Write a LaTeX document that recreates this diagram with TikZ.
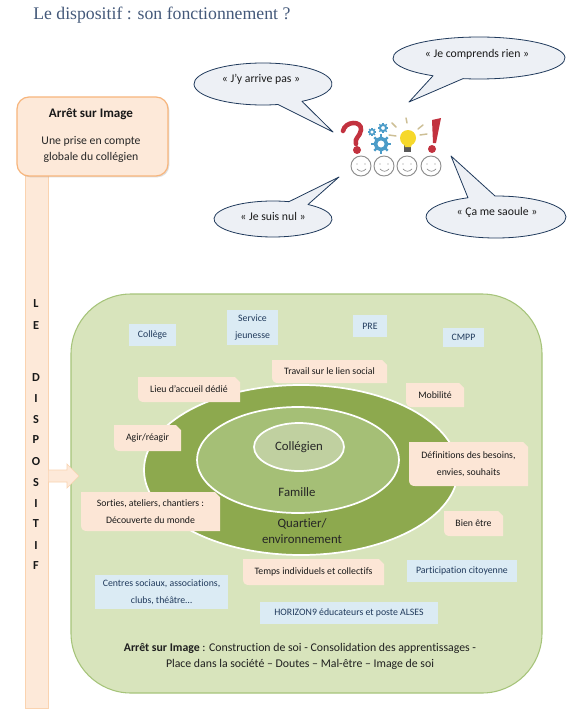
\documentclass[tikz,border=0pt]{standalone}
\usepackage{fontspec}
\setmainfont{Carlito}[Ligatures=NoCommon]
\newfontfamily\titlefont{Liberation Serif}
\usetikzlibrary{shadows}
\definecolor{titleblue}{HTML}{44597A}
\definecolor{peach}{HTML}{FDE9D9}
\definecolor{peachedge}{HTML}{F7B57C}
\definecolor{tagpeach}{HTML}{FCE6D6}
\definecolor{tagblue}{HTML}{DBEBF4}
\definecolor{panelgreen}{HTML}{D8E4BC}
\definecolor{paneledge}{HTML}{A6C47A}
\definecolor{ringa}{HTML}{8DA94E}
\definecolor{ringb}{HTML}{A5BF76}
\definecolor{ringc}{HTML}{C0D0A0}
\definecolor{bubblefill}{HTML}{EDF0F5}
\definecolor{bubbleedge}{HTML}{203A5C}
\definecolor{qred}{HTML}{C2323F}
\definecolor{gearblue}{HTML}{4C9CC8}
\definecolor{bulbyellow}{HTML}{F6D82B}
\definecolor{raytan}{HTML}{CDBF95}
\definecolor{facegrey}{HTML}{8E8E8E}
\tikzset{
  x=0.75pt,y=-0.75pt,
  label8/.style={font=\fontsize{7.35}{12.5}\selectfont,align=center,inner sep=0pt,text=black!90},
  bluelabel/.style={label8,text=bubbleedge},
  big/.style={font=\fontsize{9.6}{12.5}\selectfont,align=center,inner sep=0pt,text=black!85},
  bubbletext/.style={font=\fontsize{8.8}{10}\selectfont,inner sep=0pt,text=black!90},
  bubble/.style={fill=bubblefill,draw=bubbleedge,line width=0.6pt,line join=round},
  tagp/.style={fill=tagpeach},
  tagb/.style={fill=tagblue},
  ring/.style={draw=white,line width=1.3pt},
  ray/.style={draw=raytan,line width=1.1pt,line cap=round},
  face/.style={draw=facegrey,line width=0.7pt},
  mouth/.style={draw=facegrey,line width=0.5pt,line cap=round},
  barletter/.style={font=\fontsize{9.2}{10}\selectfont\bfseries,inner sep=0pt,text=black!90},
  barshape/.style={fill=peach,draw=peachedge!60,line width=0.5pt,line join=miter},
}
% tag with snipped top-right corner and rounded bottom-left corner; text at its centre
\newcommand{\tagbox}[6]{%
  \path[tagp] (#2,#3) -- (#4-5,#3) -- (#4,#3+5) -- (#4,#5)
    -- (#2+6,#5) .. controls (#2+2,#5) and (#2,#5-2) .. (#2,#5-6) -- cycle;
  \node[label8] (#1) at ({(#2+#4)/2},{(#3+#5)/2}) {#6};
}
\newcommand{\bluebox}[6]{%
  \path[tagb] (#2,#3) rectangle (#4,#5);
  \node[bluelabel] (#1) at ({(#2+#4)/2},{(#3+#5)/2}) {#6};
}
\newcommand{\gearicon}[3]{%
  \draw[gearblue,line width=#3*0.3pt] (#1,#2) circle[radius=#3*0.62];
  \foreach \a in {0,45,...,315}
    \draw[gearblue,line width=#3*0.2pt] (#1,#2) ++(\a:#3*0.7) -- ++(\a:#3*0.36);
}
\newcommand{\smiley}[3]{%
  \node[face,circle,minimum size=15pt,inner sep=0pt] (#1) at (#2,#3) {};
  \fill[facegrey] (#2-4,#3-2) circle[radius=0.6] (#2+4,#3-2) circle[radius=0.6];
  \draw[mouth] (#2-4,#3+3) .. controls (#2-1,#3+6) and (#2+2,#3+6) .. (#2+5,#3+3);
}
\begin{document}
\begin{tikzpicture}
\useasboundingbox (0,0) rectangle (583,724);
\fill[white] (0,0) rectangle (583,724);
% title
\node[anchor=west,inner sep=0pt,text=titleblue,font=\titlefont\fontsize{13.3}{15}\selectfont] (title) at (33,15) {Le dispositif : son fonctionnement ?};

% bubbles
\draw[bubble] (263,84)++(77.5:69 and 21) arc[start angle=77.5,end angle=415.6,x radius=69,y radius=21] -- (333,132) -- cycle;
\draw[bubble] (479,58)++(122.3:86 and 21) arc[start angle=122.3,end angle=460.7,x radius=86,y radius=21] -- (409,102) -- cycle;
\draw[bubble] (273,219)++(-53.6:59 and 18) arc[start angle=-53.6,end angle=285.7,x radius=59,y radius=18] -- (339,177) -- cycle;
\draw[bubble] (496,217)++(-90.8:70 and 21) arc[start angle=-90.8,end angle=246.4,x radius=70,y radius=21] -- (451,156) -- cycle;
\node[bubbletext] (b1) at (261,79) {« J’y arrive pas »};
\node[bubbletext] (b2) at (477,54) {« Je comprends rien »};
\node[bubbletext] (b3) at (273,216) {« Je suis nul »};
\node[bubbletext] (b4) at (497,212) {« Ça me saoule »};

% icon: question mark
\draw[qred,line width=3.4pt,line cap=round] (343,131) .. controls (345,121) and (362,120) .. (361,130) .. controls (360,137) and (354,138) .. (356,144);
\fill[qred] (357,150) circle[radius=4];
% gears
\gearicon{372}{132}{4}
\gearicon{383}{128}{5}
\gearicon{381}{144}{9}
% bulb
\draw[ray] (406,118) -- (407,123);
\draw[ray] (392,123) -- (396,127);
\draw[ray] (389,135) -- (396,136);
\draw[ray] (423,125) -- (418,129);
\draw[ray] (427,134) -- (420,135);
\fill[gray!70!black] (404,145) rectangle (411,152);
\fill[bulbyellow] (408,138) circle[radius=8];
\fill[bulbyellow] (403,141) -- (413,141) -- (411,147) -- (405,147) -- cycle;
% exclamation
\fill[qred] (432,120) -- (441,118) -- (436,143) -- (433,143) -- cycle;
\fill[qred] (432,149) circle[radius=4];
% faces
\smiley{f1}{361}{166}
\smiley{f2}{384}{166}
\smiley{f3}{407}{166}
\smiley{f4}{431}{166}

% vertical bar
\draw[barshape] (25,170) rectangle (48,708);
\foreach \l/\y in {L/304,E/326,D/378,I/399,S/420,P/440,O/462,S/483,I/504,T/524,I/546,F/566}
  \node[barletter] at (36,\y) {\l};

% header box
\draw[fill=peach,draw=peachedge,line width=0.9pt,rounded corners=9pt,drop shadow={opacity=0.25,shadow xshift=1pt,shadow yshift=-1pt}] (17,97) rectangle (168,176);
\node[font=\fontsize{9.8}{10}\selectfont\bfseries,inner sep=0pt,text=black!90] (h1) at (91,114) {Arrêt sur Image};
\node[font=\fontsize{8.8}{12}\selectfont,align=center,inner sep=0pt,text=black!85] (h2) at (91,149) {Une prise en compte\\globale du collégien};

% panel
\draw[fill=panelgreen,draw=paneledge,line width=0.8pt,rounded corners=45pt] (71,294) rectangle (542,693);

% arrow from the bar into the panel
\fill[peach] (48.5,470) -- (67,470) -- (67,464) -- (79,476) -- (67,488) -- (67,482) -- (48.5,482) -- cycle;
\draw[peachedge!60,line width=0.5pt] (48,470) -- (67,470) -- (67,464) -- (79,476) -- (67,488) -- (67,482) -- (48,482);

% rings
\draw[ring,fill=ringa] (301,470) ellipse[x radius=157,y radius=85];
\draw[ring,fill=ringb] (298,460) ellipse[x radius=101,y radius=53];
\draw[ring,fill=ringc] (299,447) ellipse[x radius=45,y radius=24];
\node[big] (r1) at (299,447) {Collégien};
\node[big] (r2) at (297,492) {Famille};
\node[big] (r3) at (302,531) {Quartier/\\environnement};

% tags, peach
\tagbox{t1}{138}{377}{240}{402}{Lieu d’accueil dédié}
\tagbox{t2}{114}{425}{181}{451}{Agir/réagir}
\tagbox{t3}{81}{492}{220}{531}{Sorties, ateliers, chantiers :\\Découverte du monde}
\tagbox{t4}{272}{360}{387}{383}{Travail sur le lien social}
\tagbox{t5}{406}{383}{464}{407}{Mobilité}
\tagbox{t6}{409}{442}{528}{486}{Définitions des besoins,\\envies, souhaits}
\tagbox{t7}{444}{511}{503}{536}{Bien être}
\tagbox{t8}{243}{559}{384}{585}{Temps individuels et collectifs}

% tags, blue
\bluebox{c1}{129}{324}{176}{346}{Collège}
\bluebox{c2}{227}{310}{278}{345}{Service\\jeunesse}
\bluebox{c3}{353}{315}{387}{337}{PRE}
\bluebox{c4}{443}{328}{484}{347}{CMPP}
\bluebox{c5}{407}{560}{517}{582}{Participation citoyenne}
\bluebox{c6}{95}{575}{228}{609}{Centres sociaux, associations,\\clubs, théâtre…}
\bluebox{c7}{260}{602}{438}{624}{HORIZON9 éducateurs et poste ALSES}

% bottom text
\node[font=\fontsize{8.85}{12}\selectfont,align=center,inner sep=0pt,text=black!88] (foot) at (300,656) {\textbf{Arrêt sur Image} : Construction de soi - Consolidation des apprentissages -\\Place dans la société – Doutes – Mal-être – Image de soi};
\end{tikzpicture}
\end{document}
